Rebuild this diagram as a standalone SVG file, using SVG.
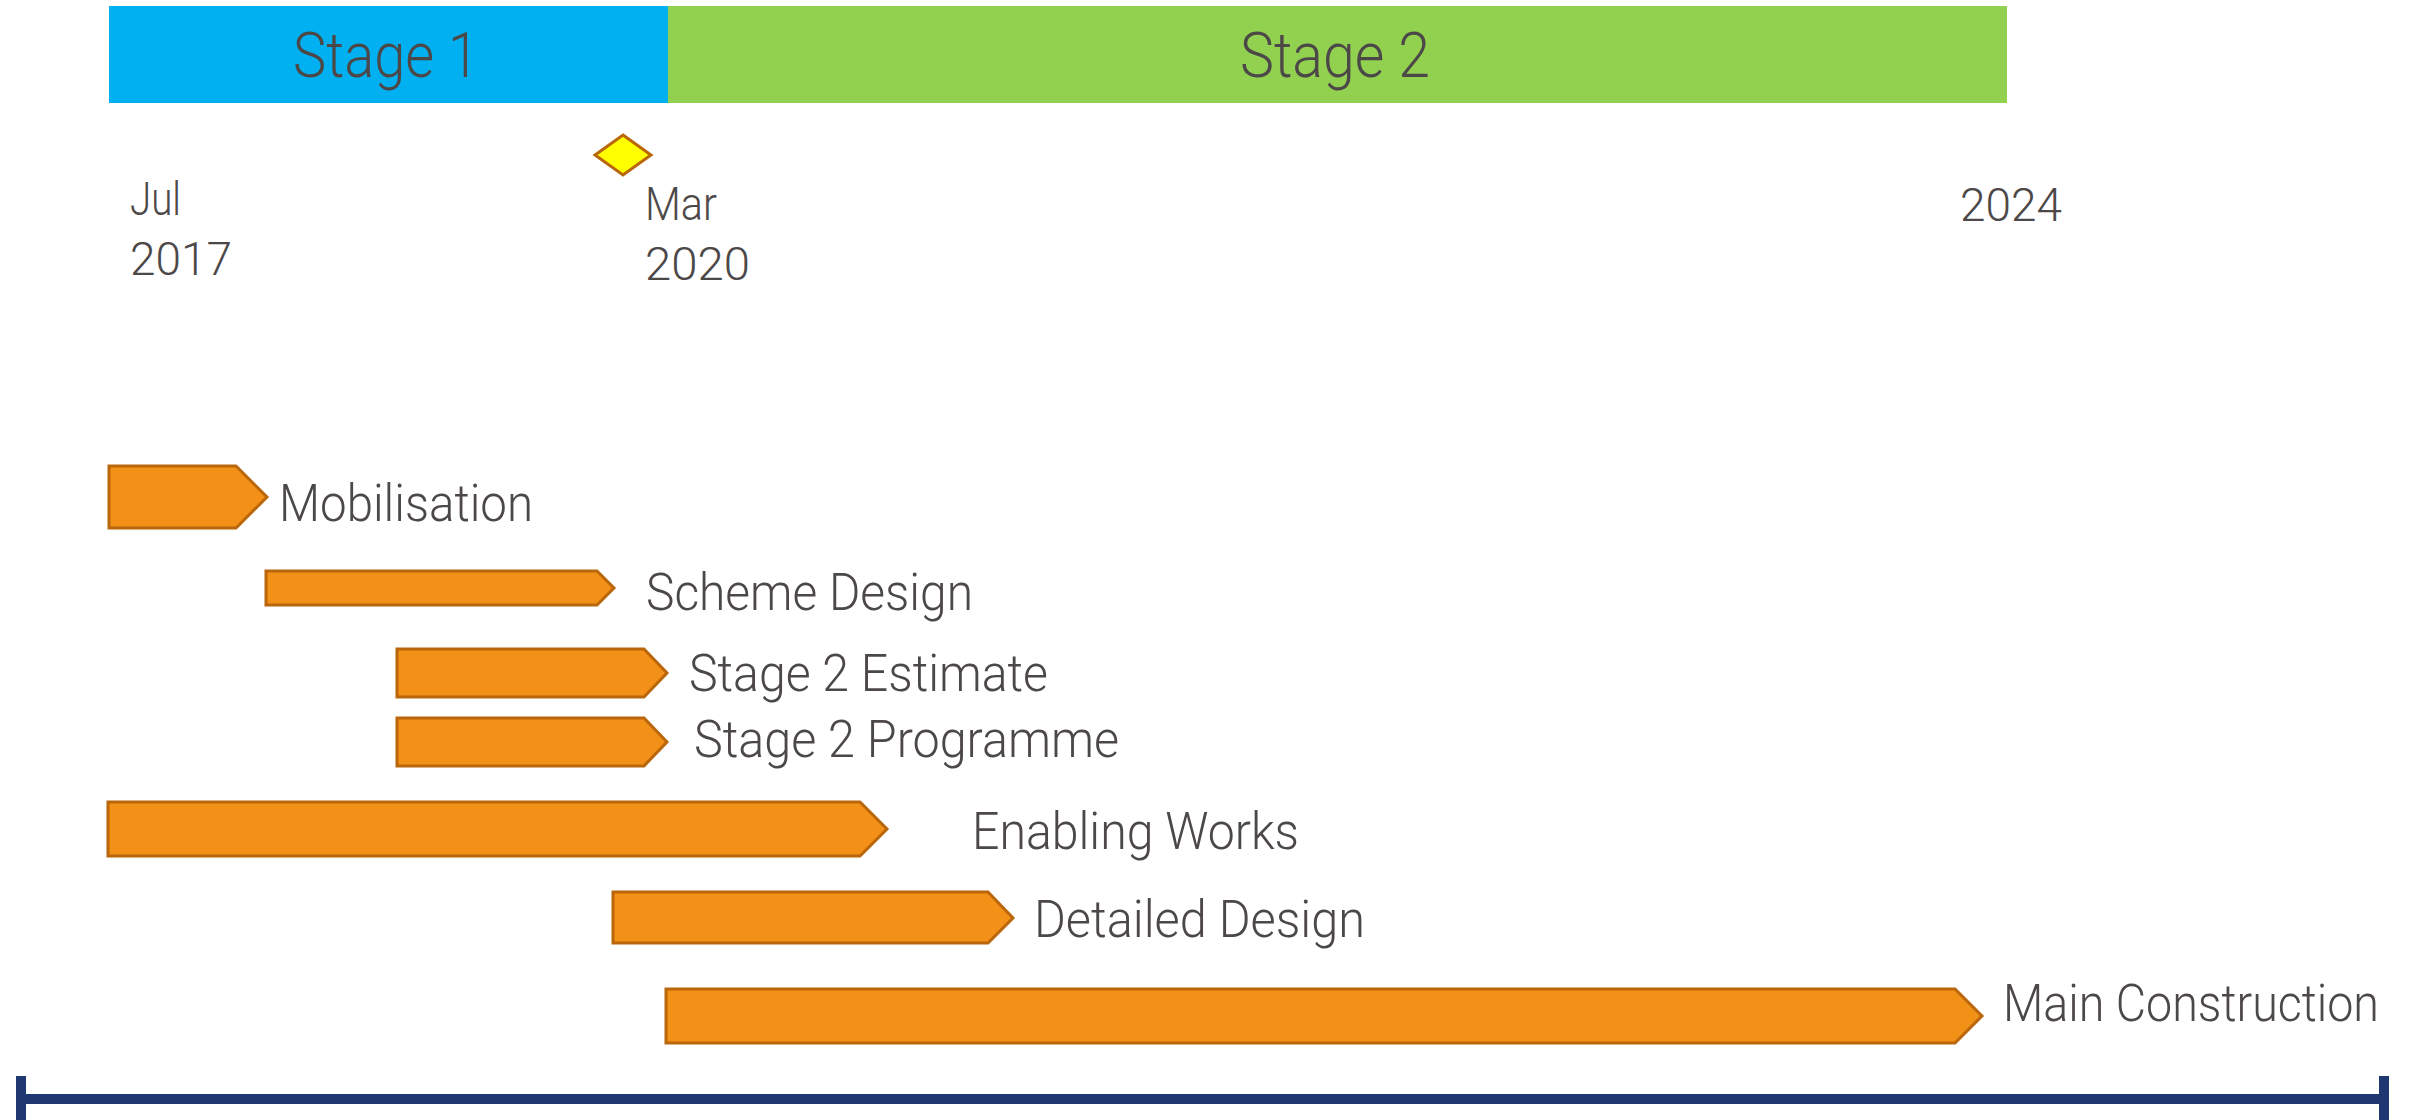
<svg xmlns="http://www.w3.org/2000/svg" width="2413" height="1120" viewBox="0 0 2413 1120">
<style>
.t{font-family:Roboto,"Liberation Sans",sans-serif;font-weight:300;fill:#4D4848;}
.st{font-size:63px;}
.dt{font-size:46px;}
.lb{font-size:52px;}
.bar{fill:#F39017;stroke:#B9670A;stroke-width:3;}
.ax{stroke:#1F3871;stroke-width:10;fill:none;}
</style>
<rect width="2413" height="1120" fill="#FFFFFF"/>
<g id="stage1">
<rect x="109" y="6" width="559" height="97" fill="#00B0F0"/>
<text class="t st" x="293" y="77" textLength="186" lengthAdjust="spacingAndGlyphs">Stage 1</text>
</g>
<g id="stage2">
<rect x="668" y="6" width="1339" height="97" fill="#92D050"/>
<text class="t st" x="1240" y="77" textLength="190" lengthAdjust="spacingAndGlyphs">Stage 2</text>
</g>
<g id="milestone">
<polygon points="623,135 651,155 623,175 595,155" fill="#FFFF00" stroke="#B9670A" stroke-width="3"/>
</g>
<g id="date-jul2017">
<text class="t dt" x="130" y="215" textLength="51" lengthAdjust="spacingAndGlyphs">Jul</text>
<text class="t dt" x="130" y="275" textLength="102" lengthAdjust="spacingAndGlyphs">2017</text>
</g>
<g id="date-mar2020">
<text class="t dt" x="645" y="220" textLength="72" lengthAdjust="spacingAndGlyphs">Mar</text>
<text class="t dt" x="645" y="280" textLength="105" lengthAdjust="spacingAndGlyphs">2020</text>
</g>
<g id="date-2024">
<text class="t dt" x="1960" y="221" textLength="102" lengthAdjust="spacingAndGlyphs">2024</text>
</g>
<g id="mobilisation">
<polygon class="bar" points="109,466 236,466 267,497 236,528 109,528"/>
<text class="t lb" x="279" y="521" textLength="254" lengthAdjust="spacingAndGlyphs">Mobilisation</text>
</g>
<g id="scheme-design">
<polygon class="bar" points="266,571 597,571 614,588 597,605 266,605"/>
<text class="t lb" x="646" y="610" textLength="327" lengthAdjust="spacingAndGlyphs">Scheme Design</text>
</g>
<g id="stage2-estimate">
<polygon class="bar" points="397,649 644,649 667,673 644,697 397,697"/>
<text class="t lb" x="689" y="691" textLength="359" lengthAdjust="spacingAndGlyphs">Stage 2 Estimate</text>
</g>
<g id="stage2-programme">
<polygon class="bar" points="397,718 644,718 667,742 644,766 397,766"/>
<text class="t lb" x="694" y="757" textLength="425" lengthAdjust="spacingAndGlyphs">Stage 2 Programme</text>
</g>
<g id="enabling-works">
<polygon class="bar" points="108,802 860,802 887,829 860,856 108,856"/>
<text class="t lb" x="972" y="849" textLength="327" lengthAdjust="spacingAndGlyphs">Enabling Works</text>
</g>
<g id="detailed-design">
<polygon class="bar" points="613,892 988,892 1013,918 988,943 613,943"/>
<text class="t lb" x="1034" y="937" textLength="331" lengthAdjust="spacingAndGlyphs">Detailed Design</text>
</g>
<g id="main-construction">
<polygon class="bar" points="666,989 1955,989 1982,1016 1955,1043 666,1043"/>
<text class="t lb" x="2003" y="1021" textLength="376" lengthAdjust="spacingAndGlyphs">Main Construction</text>
</g>
<g id="connectors">
<line class="ax" x1="21" y1="1099" x2="2384" y2="1099"/>
<line class="ax" x1="21" y1="1076" x2="21" y2="1120"/>
<line class="ax" x1="2384" y1="1076" x2="2384" y2="1120"/>
</g>
</svg>
